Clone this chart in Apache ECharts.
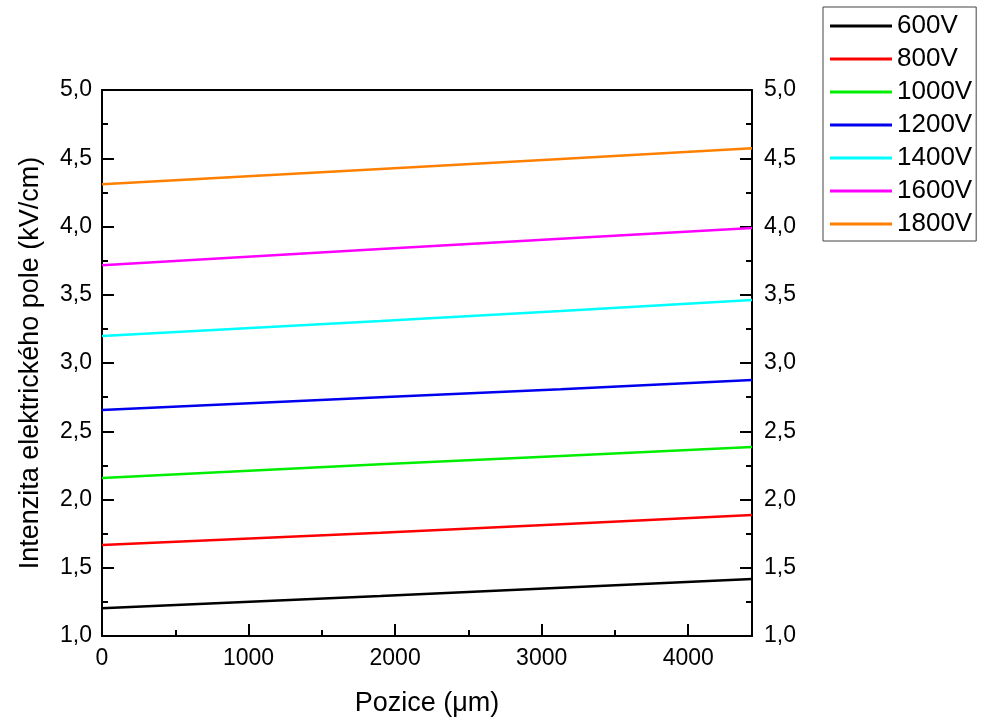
<!DOCTYPE html>
<html><head><meta charset="utf-8">
<script src="https://cdn.jsdelivr.net/npm/echarts@6/dist/echarts.min.js"></script>
<style>html,body{margin:0;padding:0;background:#fff}#c{width:985px;height:726px}</style>
</head><body><div id="c"></div>
<script>
const positions = [0, 1900, 3130, 4435];
const names = ['600V','800V','1000V','1200V','1400V','1600V','1800V'];
const colors = ['#000000','#ff0000','#00ee00','#0000ee','#00ffff','#ff00ff','#ff8000'];
const v600  = [1.203, 1.293, 1.354, 1.418];
const v800  = [1.667, 1.757, 1.818, 1.886];
const v1000 = [2.157, 2.258, 2.319, 2.385];
const v1200 = [2.656, 2.749, 2.807, 2.875];
const v1400 = [3.198, 3.308, 3.381, 3.462];
const v1600 = [3.717, 3.835, 3.911, 3.989];
const v1800 = [4.309, 4.421, 4.495, 4.573];
const values = [v600, v800, v1000, v1200, v1400, v1600, v1800];
const FONT = 'Liberation Sans, Arial, sans-serif';
const chart = echarts.init(document.getElementById('c'));
const fmt = v => v.toFixed(1).replace('.', ',');
const yCommon = {
  type: 'value', min: 1, max: 5, interval: 0.5,
  axisLine: {show: true, onZero: false, lineStyle: {color: '#000', width: 2}},
  axisTick: {show: true, inside: true, length: 12, lineStyle: {color: '#000', width: 2}},
  minorTick: {show: true, splitNumber: 2, length: 6, lineStyle: {color: '#000', width: 2}},
  splitLine: {show: false},
  axisLabel: {formatter: fmt, color: '#000', fontSize: 23, fontFamily: FONT, margin: 10}
};
chart.setOption({
  animation: false,
  grid: {left: 102, right: 233, top: 90, bottom: 90},
  legend: {
    orient: 'vertical', left: 823, top: 7,
    padding: [5, 4, 3, 7], itemGap: 5,
    itemWidth: 62, itemHeight: 3, icon: 'rect',
    borderColor: '#444', borderWidth: 1,
    textStyle: {fontSize: 26, fontFamily: FONT, color: '#000', lineHeight: 28},
    data: names
  },
  xAxis: [{
    type: 'value', min: 0, max: 4435, interval: 1000,
    name: 'Pozice (\u03bcm)', nameLocation: 'middle', nameGap: 54,
    nameTextStyle: {fontSize: 27, fontFamily: FONT, color: '#000'},
    axisLine: {show: true, onZero: false, lineStyle: {color: '#000', width: 2}},
    axisTick: {show: true, inside: true, length: 12, lineStyle: {color: '#000', width: 2}},
    minorTick: {show: true, splitNumber: 2, length: 6, lineStyle: {color: '#000', width: 2}},
    splitLine: {show: false},
    axisLabel: {formatter: v => String(v), color: '#000', fontSize: 23, fontFamily: FONT, margin: 11, showMaxLabel: false}
  }, {
    type: 'value', min: 0, max: 4435, position: 'top',
    axisLine: {show: true, onZero: false, lineStyle: {color: '#000', width: 2}},
    axisTick: {show: false}, axisLabel: {show: false}, splitLine: {show: false}
  }],
  yAxis: [Object.assign({}, yCommon, {
    position: 'left',
    name: 'Intenzita elektrického pole (kV/cm)', nameLocation: 'middle', nameGap: 58,
    nameTextStyle: {fontSize: 27, fontFamily: FONT, color: '#000'}
  }), Object.assign({}, yCommon, {position: 'right', axisLabel: Object.assign({}, yCommon.axisLabel, {margin: 12})})],
  series: names.map((n, i) => ({
    name: n, type: 'line', xAxisIndex: 0, yAxisIndex: 0,
    symbol: 'none', smooth: false,
    color: colors[i],
    itemStyle: {color: colors[i]},
    lineStyle: {color: colors[i], width: 2.5},
    data: positions.map((p, j) => [p, values[i][j]])
  }))
});
</script></body></html>
